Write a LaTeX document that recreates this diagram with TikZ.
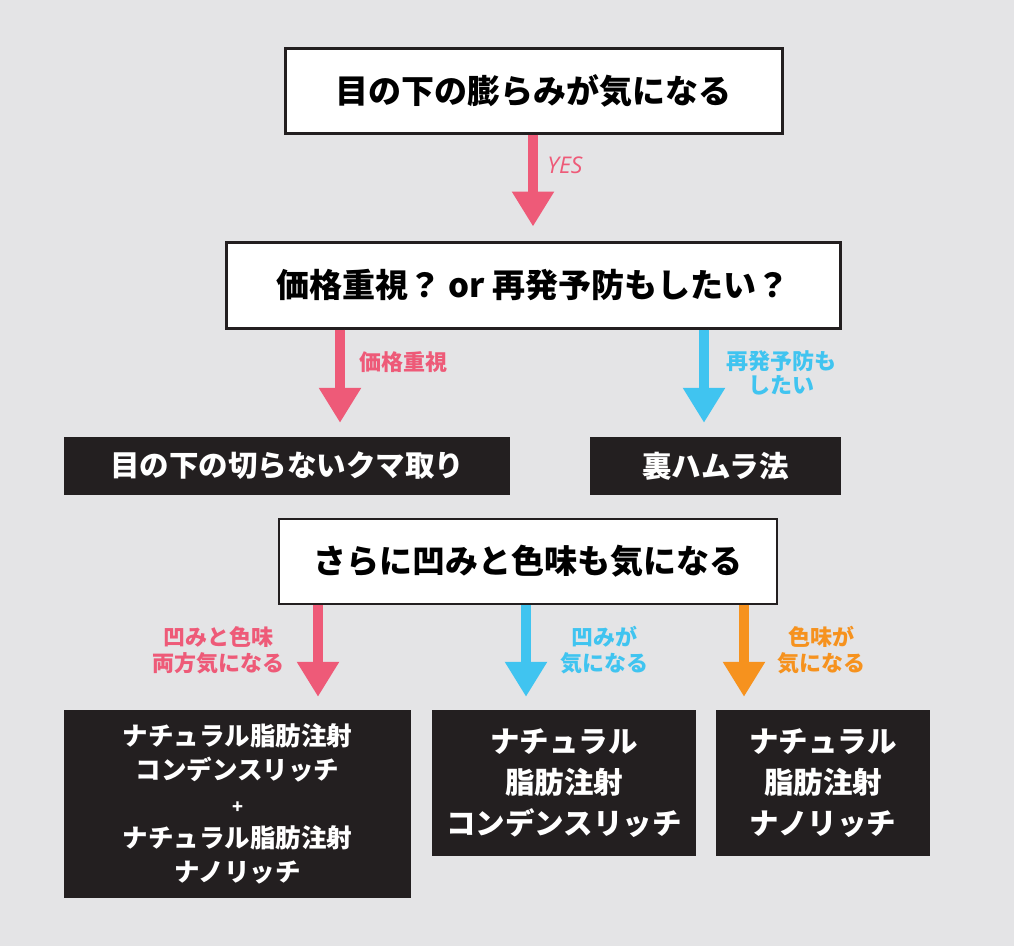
\documentclass[tikz,border=0pt]{standalone}
\usepackage{fontspec}
\newfontfamily\jp{Noto Sans CJK JP}
\newfontfamily\latinsans{Open Sans}
\usetikzlibrary{arrows.meta}
\definecolor{bg}{RGB}{228,228,230}
\definecolor{cpink}{RGB}{238,90,120}
\definecolor{cblue}{RGB}{64,196,240}
\definecolor{corange}{RGB}{246,146,30}
\definecolor{boxblack}{RGB}{35,31,32}
\newcommand{\fs}[1]{\fontsize{#1}{#1}\selectfont}
\tikzset{
  whitebox/.style={draw=boxblack, line width=3pt, fill=white, inner sep=0pt, font=\jp\bfseries, text=black},
  blackbox/.style={fill=boxblack, inner sep=0pt, font=\jp\bfseries, text=white, align=center},
  flowarrow/.style={line width=10pt, -{Triangle[width=40pt,length=35pt]}, shorten >=14pt},
  lbl/.style={font=\jp\bfseries\fs{22}, align=center, inner sep=0pt}
}
\begin{document}
\begin{tikzpicture}[x=1pt,y=-1pt]
\fill[bg] (0,0) rectangle (1014,946);
\useasboundingbox (0,0) rectangle (1014,946);

% boxes
\node[whitebox, minimum width=497pt, minimum height=85pt, font=\jp\bfseries\fs{33}] (b1) at (533.5,90.5) {目の下の膨らみが気になる};
\node[whitebox, minimum width=614pt, minimum height=86pt, font=\jp\bfseries\fs{33}] (b2) at (533,285) {価格重視？ or 再発予防もしたい？};
\node[blackbox, minimum width=446pt, minimum height=58pt, font=\jp\bfseries\fs{29.5}] (b3) at (287,466) {目の下の切らないクマ取り};
\node[blackbox, minimum width=251pt, minimum height=58pt, font=\jp\bfseries\fs{29.5}] (b4) at (715.5,466) {裏ハムラ法};
\node[whitebox, line width=2pt, minimum width=498pt, minimum height=85pt, font=\jp\bfseries\fs{33}] (b5) at (528,561.5) {さらに凹みと色味も気になる};
\node[blackbox, minimum width=347pt, minimum height=188pt, font=\jp\bfseries\fontsize{25.5}{34}\selectfont] (b6) at (237.5,804) {ナチュラル脂肪注射\\コンデンスリッチ\\{\fs{18}+}\\ナチュラル脂肪注射\\ナノリッチ};
\node[blackbox, minimum width=264pt, minimum height=146pt, font=\jp\bfseries\fontsize{29.5}{41}\selectfont] (b7) at (564,783) {ナチュラル\\脂肪注射\\コンデンスリッチ};
\node[blackbox, minimum width=214pt, minimum height=146pt, font=\jp\bfseries\fontsize{29.5}{41}\selectfont] (b8) at (823,783) {ナチュラル\\脂肪注射\\ナノリッチ};

% arrow x positions
\coordinate (xa) at (533,0);
\coordinate (xb) at (340,0);
\coordinate (xc) at (704,0);
\coordinate (xd) at (318,0);
\coordinate (xe) at (526,0);
\coordinate (xf) at (744,0);

\draw[flowarrow, cpink] (b1.south -| xa) -- (b2.north -| xa);
\draw[flowarrow, cpink] (b2.south -| xb) -- (b3.north -| xb);
\draw[flowarrow, cblue] (b2.south -| xc) -- (b4.north -| xc);
\draw[flowarrow, cpink, shorten >=13pt] (b5.south -| xd) -- (b6.north -| xd);
\draw[flowarrow, cblue, shorten >=13pt] (b5.south -| xe) -- (b7.north -| xe);
\draw[flowarrow, corange, shorten >=13pt] (b5.south -| xf) -- (b8.north -| xf);

% labels
\node[lbl, text=cpink, font=\latinsans\itshape\fs{23}] (lyes) at (565,165) {YES};
\node[lbl, text=cpink] (l1) at (403,362) {価格重視};
\node[lbl, text=cblue, font=\jp\bfseries\fontsize{22}{24}\selectfont] (l2) at (781,373) {再発予防も\\したい};
\node[lbl, text=cpink, font=\jp\bfseries\fontsize{22}{26}\selectfont] (l3) at (218,650) {凹みと色味\\両方気になる};
\node[lbl, text=cblue, font=\jp\bfseries\fontsize{22}{26}\selectfont] (l4) at (604,650) {凹みが\\気になる};
\node[lbl, text=corange, font=\jp\bfseries\fontsize{22}{26}\selectfont] (l5) at (821,650) {色味が\\気になる};
\end{tikzpicture}
\end{document}
